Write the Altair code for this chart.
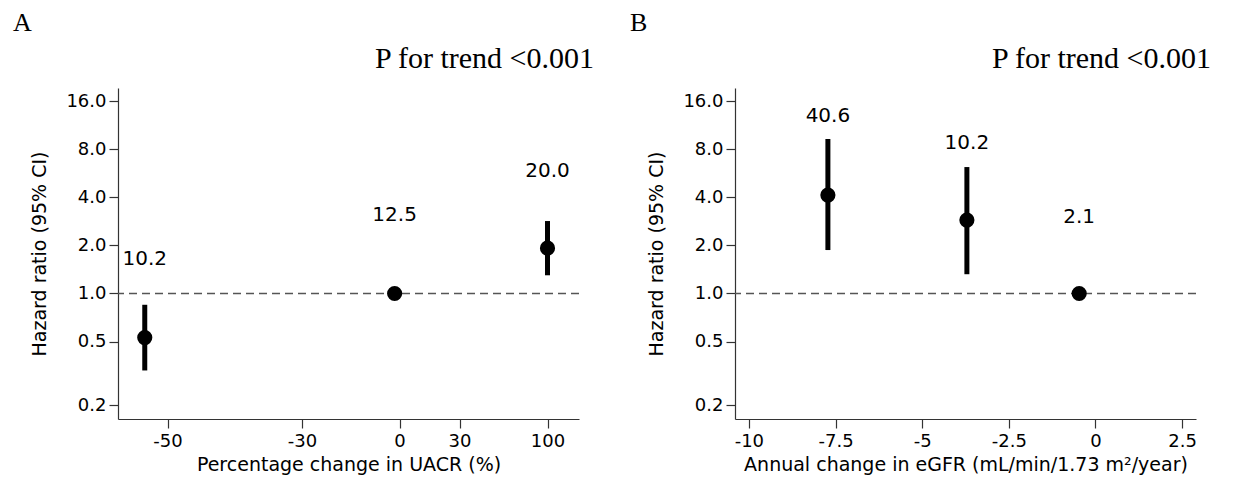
import altair as alt
import pandas as pd

# ---------------- data ----------------
# Panel A: percentage change in UACR
a_x = [-53.4, -1.5, 100.0]
a_hr = [0.53, 1.0, 1.92]
a_lo = [0.33, 1.0, 1.30]
a_hi = [0.85, 1.0, 2.84]
a_lab = ["10.2", "12.5", "20.0"]
a_lab_y = [1.64, 3.10, 5.84]
a_ticks = [-50, -30, 0, 30, 100]
a_xtitle = "Percentage change in UACR (%)"

# Panel B: annual change in eGFR
b_x = [-7.72, -3.71, -0.47]
b_hr = [4.13, 2.88, 1.0]
b_lo = [1.87, 1.32, 1.0]
b_hi = [9.26, 6.18, 1.0]
b_lab = ["40.6", "10.2", "2.1"]
b_lab_y = [12.9, 8.74, 3.01]
b_ticks = [-10, -7.5, -5, -2.5, 0, 2.5]
b_xtitle = "Annual change in eGFR (mL/min/1.73 m²/year)"

y_ticks = [0.2, 0.5, 1, 2, 4, 8, 16]
y_title = "Hazard ratio (95% CI)"
ref_value = [1.0]
letters = ["A", "B"]
p_text = "P for trend <0.001"

W, H = 461, 331
SANS = "DejaVu Sans"
SERIF = "Liberation Serif"

yscale = alt.Scale(type="log", domain=[0.164, 19.3], nice=False)
yaxis = alt.Axis(values=y_ticks, format=".1f", title=y_title, grid=False,
                 labelPadding=3, titlePadding=16)

xscale_a = alt.Scale(domain=[-57.4, -50, -30, 0, 30, 100, 125],
                     range=[0, 49.5, 184, 281.5, 341.5, 429.5, W],
                     nice=False, zero=False)
xaxis_a = alt.Axis(values=a_ticks, labelExpr="'' + datum.value", title=a_xtitle,
                   grid=False, labelPadding=4, titlePadding=5, labelFlush=False)

xscale_b = alt.Scale(domain=[-10.4, 2.9], nice=False, zero=False)
xaxis_b = alt.Axis(values=b_ticks, labelExpr="'' + datum.value", title=b_xtitle,
                   grid=False, labelPadding=4, titlePadding=5, labelFlush=False)


def panel(xs, hr, lo, hi, lab, lab_y, xscale, xaxis, letter):
    df = pd.DataFrame({"x": xs, "hr": hr, "lo": lo, "hi": hi,
                       "lab": lab, "laby": lab_y})
    X = lambda f: alt.X(f, type="quantitative", scale=xscale, axis=xaxis)
    Y = lambda f: alt.Y(f, type="quantitative", scale=yscale, axis=yaxis)

    ref = alt.Chart(pd.DataFrame({"ref": ref_value})).mark_rule(
        color="#555555", strokeWidth=1.3, strokeDash=[8, 5]
    ).encode(y=Y("ref"))

    err = alt.Chart(df).mark_rule(color="black", strokeWidth=5).encode(
        x=X("x"), y=Y("lo"), y2="hi")

    dots = alt.Chart(df).mark_circle(size=230, opacity=1, color="black").encode(
        x=X("x"), y=Y("hr"))

    labels = alt.Chart(df).mark_text(
        font=SANS, fontSize=20, color="black", align="center", baseline="middle"
    ).encode(x=X("x"), y=Y("laby"), text="lab:N")

    let = alt.Chart(pd.DataFrame({"t": [letter]})).mark_text(
        font=SERIF, fontSize=26, color="black", align="left", baseline="alphabetic"
    ).encode(text="t:N", x=alt.value(-105), y=alt.value(-57))

    ptx = alt.Chart(pd.DataFrame({"t": [p_text]})).mark_text(
        font=SERIF, fontSize=30, color="black", align="right", baseline="alphabetic"
    ).encode(text="t:N", x=alt.value(W + 15), y=alt.value(-20))

    return alt.layer(ref, err, dots, labels, let, ptx).properties(width=W, height=H)


pa = panel(a_x, a_hr, a_lo, a_hi, a_lab, a_lab_y, xscale_a, xaxis_a, letters[0])
pb = panel(b_x, b_hr, b_lo, b_hi, b_lab, b_lab_y, xscale_b, xaxis_b, letters[1])

chart = alt.hconcat(pa, pb, spacing=34).properties(
    padding={"left": 4, "top": 1, "right": 0, "bottom": 0}
).configure_view(stroke="transparent").configure_axis(
    domainColor="#333333", tickColor="#333333", domainWidth=1.2, tickWidth=1.2,
    tickSize=9, labelColor="black", titleColor="black",
    labelFont=SANS, titleFont=SANS, labelFontSize=18, titleFontSize=19,
    titleFontWeight="normal"
)

chart.save("out.html", embed_options={"renderer": "svg", "actions": False})
